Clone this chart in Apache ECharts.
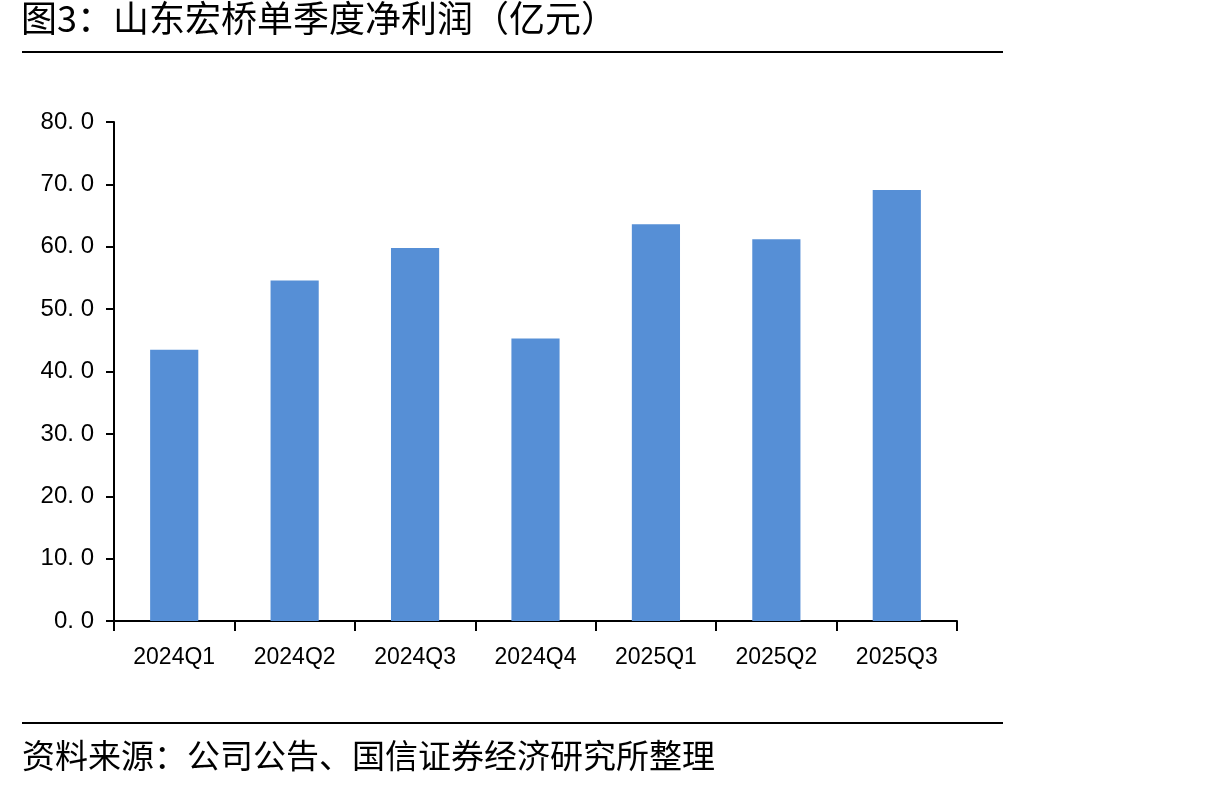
<!DOCTYPE html>
<html>
<head>
<meta charset="utf-8">
<script src="https://cdn.jsdelivr.net/npm/echarts@6/dist/echarts.min.js"></script>
<style>
  html, body { margin: 0; padding: 0; background: #fff; }
  #chart { width: 1217px; height: 792px; }
</style>
</head>
<body>
<div id="chart"></div>
<script>
const quarters = ["2024Q1", "2024Q2", "2024Q3", "2024Q4", "2025Q1", "2025Q2", "2025Q3"];
const netProfit = [43.5, 54.6, 59.8, 45.3, 63.6, 61.2, 69.1];
const titleText = "图3：山东宏桥单季度净利润（亿元）";
const sourceText = "资料来源：公司公告、国信证券经济研究所整理";

const chart = echarts.init(document.getElementById("chart"));

chart.setOption({
  backgroundColor: "#fff",
  animation: false,
  grid: { left: 114, right: 260, top: 122, bottom: 171 },
  xAxis: {
    type: "category",
    data: quarters,
    axisLine: { lineStyle: { color: "#000", width: 2 } },
    axisTick: { show: true, length: 10, lineStyle: { color: "#000", width: 2 } },
    axisLabel: {
      color: "#000",
      fontFamily: "Liberation Sans, Arial",
      fontSize: 23,
      margin: 25,
    },
  },
  yAxis: {
    type: "value",
    min: 0,
    max: 80,
    interval: 10,
    axisLine: { show: true, lineStyle: { color: "#000", width: 2 } },
    axisTick: { show: true, length: 8, lineStyle: { color: "#000", width: 2 } },
    splitLine: { show: false },
    axisLabel: {
      color: "#000",
      fontFamily: "Liberation Sans, Arial",
      fontSize: 24,
      margin: 20,
      formatter: (v) => v.toFixed(1).replace(".", ". "),
    },
  },
  series: [
    {
      type: "bar",
      data: netProfit,
      barWidth: "40%",
      itemStyle: { color: "#568fd6" },
    },
  ],
  graphic: [
    {
      type: "text",
      left: 21,
      top: 0,
      style: {
        text: titleText,
        fontSize: 36,
        fontFamily: "Noto Sans CJK SC",
        fill: "#000",
      },
    },
    {
      type: "line",
      shape: { x1: 22, y1: 52, x2: 1003, y2: 52 },
      style: { stroke: "#000", lineWidth: 2 },
    },
    {
      type: "line",
      shape: { x1: 22, y1: 723, x2: 1003, y2: 723 },
      style: { stroke: "#000", lineWidth: 2 },
    },
    {
      type: "text",
      left: 22,
      top: 739,
      style: {
        text: sourceText,
        fontSize: 33,
        fontFamily: "Noto Sans CJK SC",
        fill: "#000",
      },
    },
  ],
});
</script>
</body>
</html>
